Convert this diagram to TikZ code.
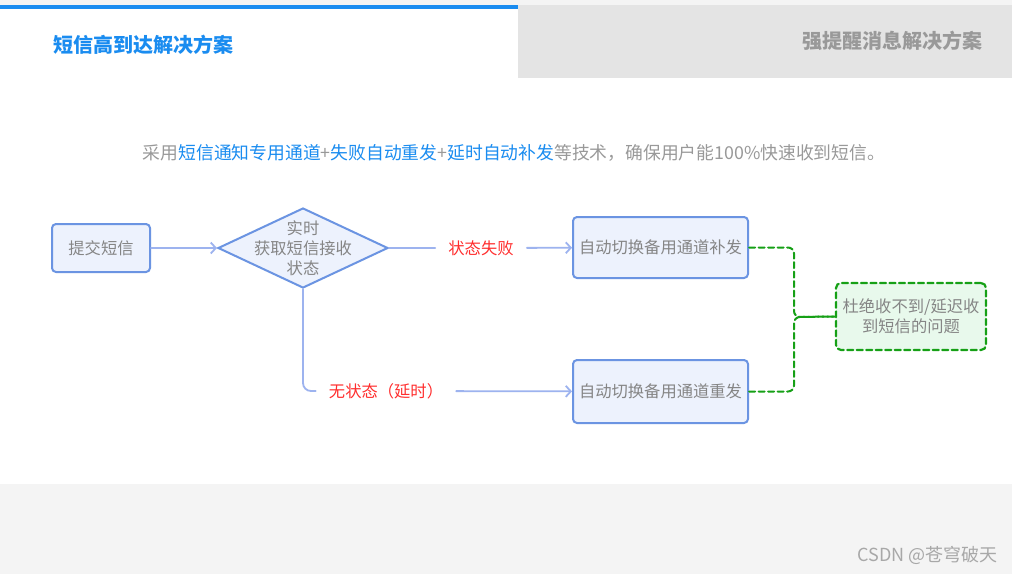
\documentclass[tikz,border=0pt]{standalone}
\usepackage{fontspec}
\setmainfont{Noto Sans CJK SC}
\usetikzlibrary{arrows.meta,shapes.geometric}
\definecolor{hdblue}{HTML}{1A8CF0}
\definecolor{tabgray}{HTML}{E4E4E4}
\definecolor{topgray}{HTML}{F4F4F4}
\definecolor{tabtxt}{HTML}{999999}
\definecolor{subgray}{HTML}{999999}
\definecolor{txtgray}{HTML}{858585}
\definecolor{boxline}{HTML}{6B94E2}
\definecolor{boxfill}{HTML}{EDF2FD}
\definecolor{flowline}{HTML}{9DB3EF}
\definecolor{tagred}{HTML}{FF2E2E}
\definecolor{okline}{HTML}{16A016}
\definecolor{okfill}{HTML}{E8F9EC}
\definecolor{wmgray}{HTML}{A8A8A8}

\begin{document}
\begin{tikzpicture}[x=1pt,y=-1pt,>={Straight Barb[length=5pt,width=11pt]},font=\fontsize{16.3}{20}\selectfont,line cap=round,
  stepbox/.style={draw=boxline,fill=boxfill,line width=2pt,rounded corners=4pt,inner sep=0pt,align=center,text=txtgray},
  decide/.style={shape=diamond,draw=boxline,fill=boxfill,line width=2pt,aspect=2.125,inner sep=-10pt,minimum width=170pt,minimum height=80pt,align=center,text=txtgray},
  goalbox/.style={draw=okline,fill=okfill,line width=2.2pt,dash pattern=on 6pt off 3.5pt,rounded corners=5pt,inner sep=0pt,align=center,text=txtgray},
  tag/.style={text=tagred,inner xsep=13pt,inner ysep=2pt},
  flow/.style={draw=flowline,line width=1.8pt},
  okflow/.style={draw=okline,line width=2pt,dash pattern=on 6pt off 3.5pt,rounded corners=6pt}]
\useasboundingbox (0,0) rectangle (1012,574);
\fill[white] (0,0) rectangle (1012,574);
\fill[topgray] (0,0) rectangle (1012,5);
\fill[tabgray] (518,5) rectangle (1012,78);
\fill[hdblue] (0,5) rectangle (518,9);
\fill[topgray] (0,484) rectangle (1012,574);
\node[anchor=west,inner sep=0pt,text=hdblue,font=\bfseries\fontsize{20}{24}\selectfont] (tabA) at (53,45) {短信高到达解决方案};
\node[anchor=east,inner sep=0pt,text=tabtxt,font=\bfseries\fontsize{20}{24}\selectfont] (tabB) at (983,41) {强提醒消息解决方案};
\node[text=subgray,font=\fontsize{17.8}{20}\selectfont] (intro) at (514,153) {采用\textcolor{hdblue}{短信通知专用通道}+\textcolor{hdblue}{失败自动重发}+\textcolor{hdblue}{延时自动补发}等技术，确保用户能100\%快速收到短信。};
\node[stepbox,minimum width=98pt,minimum height=48pt] (submit) at (101,248) {提交短信};
\node[decide] (query) at (303,248) {实时\\获取短信接收\\状态};
\node[tag] (fail) at (481,248) {状态失败};
\node[stepbox,minimum width=175pt,minimum height=61pt] (refill) at (660.5,247.5) {自动切换备用通道补发};
\node[tag] (nostate) at (386,391) {无状态（延时）};
\node[stepbox,minimum width=175pt,minimum height=63pt] (resend) at (660.5,391.5) {自动切换备用通道重发};
\node[goalbox,minimum width=150pt,minimum height=67pt] (goal) at (911,316.5) {杜绝收不到/延迟收\\到短信的问题};
\coordinate (merge) at (794,317);
\draw[flow,->] (submit) -- (query);
\draw[flow] (query) -- (fail);
\draw[flow,->] (fail) -- (refill);
\draw[flow,rounded corners=8pt] (query.south) |- (nostate.west);
\draw[flow,->] (nostate) -- (resend);
\draw[okflow] (refill.east) -| (merge) -- (goal.west);
\draw[okflow] (resend.east) -| (merge) -- (goal.west);
\node[anchor=east,inner sep=0pt,text=wmgray,font=\fontsize{18}{20}\selectfont] (mark) at (998,555) {CSDN @苍穹破天};
\end{tikzpicture}
\end{document}
